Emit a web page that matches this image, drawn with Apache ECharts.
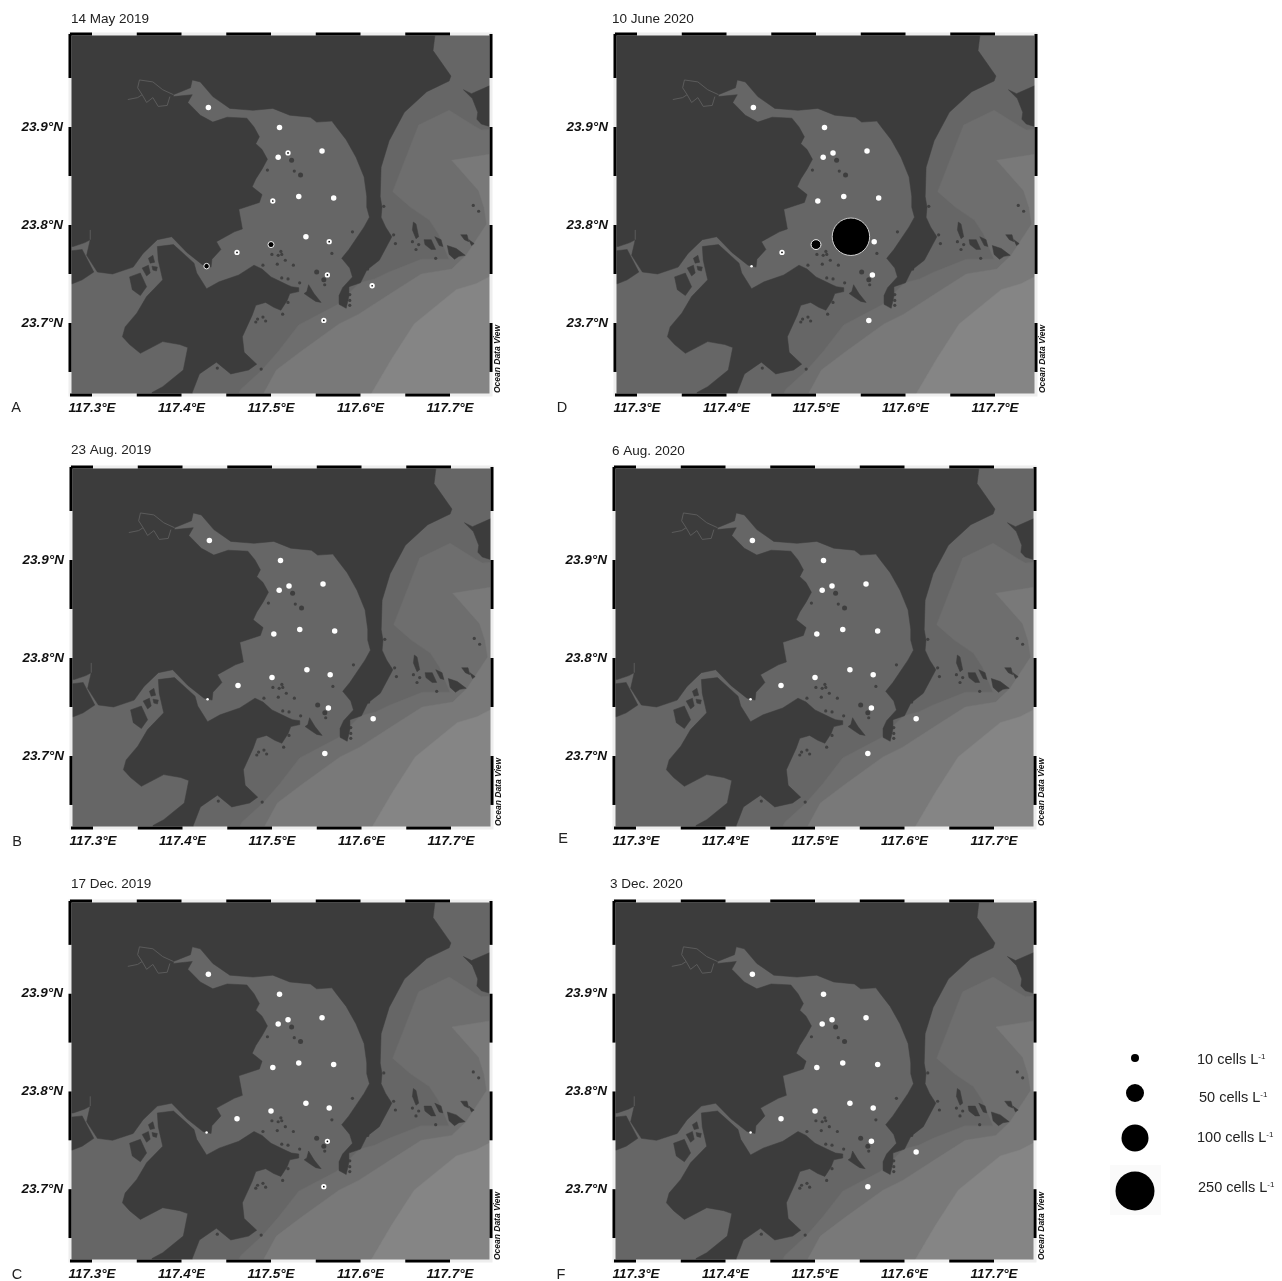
<!DOCTYPE html>
<html><head><meta charset="utf-8">
<style>html,body{margin:0;padding:0;background:#fff}#c{width:1282px;height:1281px}</style>
<script src="https://cdn.jsdelivr.net/npm/echarts@6/dist/echarts.min.js"></script>
</head><body><div id="c"></div>
<script>
// ---- survey dates and panel letters
const panelDates = ['14 May 2019','23 Aug. 2019','17 Dec. 2019','10 June 2020','6 Aug. 2020','3 Dec. 2020'];
const panelLetters = ['A','B','C','D','E','F'];
// ---- axis ticks (degrees)
const lonTicks = [117.3,117.4,117.5,117.6,117.7];
const latTicks = [23.7,23.8,23.9];
const lonRange = [117.2754,117.7458];
const latRange = [23.6265,23.9949];
const lonBlack = [[117.2754,117.3],[117.35,117.4],[117.45,117.5],[117.55,117.6],[117.65,117.7]];
const latBlack = [[23.95,23.9949],[23.85,23.9],[23.75,23.8],[23.65,23.7]];
// ---- stations [lon, lat]
const stations = [[117.430,23.920],[117.5095,23.8995],[117.508,23.869],[117.519,23.8735],[117.557,23.8755],[117.502,23.8245],[117.531,23.829],[117.570,23.8275],[117.462,23.772],[117.500,23.780],[117.539,23.788],[117.565,23.783],[117.563,23.749],[117.613,23.738],[117.559,23.7026],[117.428,23.758]];
// ---- abundance per station, cells per litre (null = no marker, -1 = trace mark half hidden by the coast)
const cellsA = [0,0,0,1,0,1,0,0,1,6,0,1,1,2,1,5];
const cellsB = [0,0,0,0,0,0,0,0,0,0,0,0,0,0,0,-1];
const cellsC = [0,0,0,0,0,0,0,0,0,0,0,0,1,null,2,-1];
const cellsD = [0,0,0,0,0,0,0,0,1,16,230,0,0,null,0,-1];
const cellsE = [0,0,0,0,0,0,0,0,0,0,0,0,0,0,0,-1];
const cellsF = [0,0,0,0,0,0,0,0,0,0,0,0,0,0,0,-1];
const legendValues = [10,50,100,250];
// ---- map outlines [lon, lat]
const landNorth = [[117.27,24.0],[117.684,24.0],[117.681,23.978],[117.701,23.952],[117.699,23.947],[117.674,23.936],[117.649,23.915],[117.632,23.886],[117.623,23.859],[117.622,23.829],[117.624,23.818],[117.623,23.808],[117.628,23.798],[117.635,23.788],[117.621,23.764],[117.607,23.754],[117.600,23.741],[117.587,23.737],[117.587,23.727],[117.584,23.715],[117.576,23.719],[117.576,23.728],[117.580,23.736],[117.591,23.747],[117.588,23.756],[117.579,23.766],[117.587,23.775],[117.604,23.798],[117.610,23.808],[117.607,23.818],[117.607,23.829],[117.604,23.849],[117.595,23.869],[117.584,23.887],[117.573,23.900],[117.568,23.906],[117.551,23.905],[117.544,23.910],[117.521,23.912],[117.502,23.919],[117.480,23.917],[117.454,23.919],[117.435,23.931],[117.421,23.946],[117.412,23.948],[117.410,23.940],[117.391,23.933],[117.391,23.931],[117.412,23.933],[117.407,23.925],[117.421,23.912],[117.435,23.905],[117.451,23.910],[117.473,23.909],[117.481,23.900],[117.487,23.890],[117.483,23.883],[117.490,23.877],[117.496,23.867],[117.490,23.857],[117.483,23.847],[117.479,23.839],[117.490,23.831],[117.487,23.823],[117.464,23.816],[117.468,23.796],[117.459,23.793],[117.439,23.783],[117.444,23.775],[117.434,23.765],[117.433,23.757],[117.424,23.759],[117.406,23.772],[117.389,23.788],[117.373,23.785],[117.357,23.771],[117.346,23.757],[117.323,23.750],[117.306,23.752],[117.294,23.769],[117.298,23.785],[117.292,23.782],[117.279,23.778],[117.27,23.778]];
const landWest = [[117.27,23.773],[117.289,23.775],[117.302,23.752],[117.289,23.744],[117.278,23.740],[117.27,23.740]];
const landSouth = [[117.391,23.780],[117.402,23.771],[117.414,23.761],[117.417,23.751],[117.428,23.735],[117.442,23.742],[117.464,23.749],[117.481,23.759],[117.490,23.755],[117.500,23.747],[117.518,23.739],[117.523,23.737],[117.531,23.736],[117.531,23.732],[117.521,23.730],[117.518,23.723],[117.511,23.713],[117.503,23.716],[117.494,23.721],[117.483,23.718],[117.479,23.708],[117.468,23.686],[117.470,23.670],[117.484,23.658],[117.475,23.652],[117.455,23.648],[117.439,23.660],[117.420,23.648],[117.412,23.629],[117.412,23.62],[117.367,23.62],[117.367,23.629],[117.379,23.635],[117.402,23.652],[117.407,23.675],[117.398,23.678],[117.379,23.681],[117.354,23.669],[117.342,23.678],[117.334,23.686],[117.337,23.696],[117.350,23.710],[117.361,23.727],[117.379,23.744],[117.374,23.764],[117.373,23.778]];
const landEast = [[117.715,23.938],[117.724,23.934],[117.744,23.942],[117.75,23.942],[117.75,23.899],[117.735,23.903],[117.730,23.908],[117.731,23.915],[117.725,23.929]];
const islandW1 = [[117.342,23.747],[117.354,23.751],[117.361,23.737],[117.354,23.728],[117.345,23.734]];
const islandW2 = [[117.356,23.756],[117.363,23.759],[117.365,23.751],[117.361,23.748]];
const islandW3 = [[117.363,23.766],[117.368,23.769],[117.370,23.762],[117.365,23.761]];
const islandW4 = [[117.367,23.758],[117.373,23.757],[117.372,23.753],[117.368,23.754]];
const islandB1 = [[117.542,23.739],[117.548,23.730],[117.556,23.721],[117.550,23.722],[117.545,23.725],[117.537,23.730],[117.540,23.732]];
const islandE1 = [[117.659,23.803],[117.662,23.801],[117.665,23.788],[117.662,23.786],[117.658,23.795]];
const islandE2 = [[117.671,23.785],[117.679,23.785],[117.684,23.775],[117.679,23.775],[117.672,23.780]];
const islandE3 = [[117.683,23.788],[117.690,23.785],[117.692,23.778],[117.688,23.779]];
const islandE4 = [[117.697,23.779],[117.707,23.776],[117.717,23.769],[117.710,23.768],[117.705,23.765],[117.699,23.770]];
const islandE5 = [[117.712,23.790],[117.719,23.790],[117.721,23.783],[117.716,23.785]];
const islandE6 = [[117.721,23.785],[117.727,23.781],[117.724,23.779]];
const depthBand2 = [[117.460,23.62],[117.466,23.632],[117.490,23.652],[117.509,23.672],[117.531,23.698],[117.573,23.718],[117.579,23.723],[117.599,23.741],[117.616,23.745],[117.632,23.752],[117.668,23.765],[117.699,23.765],[117.687,23.791],[117.677,23.805],[117.656,23.818],[117.636,23.834],[117.665,23.902],[117.699,23.917],[117.727,23.901],[117.735,23.897],[117.75,23.898],[117.75,23.62]];
const depthBand3 = [[117.487,23.62],[117.506,23.652],[117.535,23.672],[117.576,23.699],[117.598,23.709],[117.632,23.729],[117.668,23.750],[117.702,23.755],[117.718,23.769],[117.741,23.801],[117.738,23.818],[117.732,23.835],[117.702,23.866],[117.75,23.873],[117.75,23.62]];
const depthBand4 = [[117.607,23.62],[117.634,23.662],[117.660,23.699],[117.707,23.734],[117.729,23.740],[117.75,23.75],[117.75,23.62]];
const river1 = [[117.340,23.928],[117.351,23.930],[117.356,23.933],[117.351,23.940],[117.353,23.948],[117.368,23.946],[117.379,23.938],[117.391,23.933]];
const river2 = [[117.356,23.933],[117.361,23.925],[117.368,23.930],[117.374,23.921],[117.384,23.922],[117.387,23.931]];
const river3 = [[117.298,23.785],[117.298,23.795]];
const smallIslets = [[117.501,23.770],[117.508,23.769],[117.511,23.773],[117.512,23.770],[117.516,23.764],[117.507,23.760],[117.525,23.759],[117.491,23.759],[117.519,23.745],[117.512,23.746],[117.532,23.741],[117.568,23.771],[117.519,23.721],[117.513,23.709],[117.483,23.701],[117.485,23.704],[117.491,23.706],[117.494,23.702],[117.489,23.653],[117.440,23.654],[117.560,23.739],[117.526,23.855],[117.591,23.793],[117.496,23.856],[117.626,23.819],[117.726,23.820],[117.732,23.814],[117.684,23.766],[117.658,23.783],[117.665,23.780],[117.662,23.775],[117.637,23.790],[117.639,23.781],[117.608,23.755],[117.588,23.729],[117.588,23.723],[117.588,23.718]];
const largeIslets = [[117.551,23.752],[117.559,23.744],[117.523,23.866],[117.533,23.851]];

const allCells = [cellsA,cellsB,cellsC,cellsD,cellsE,cellsF];
const gridPos = [[70,34],[71,467],[70,901],[615,34],[614,467],[614,901]];
const GW = 421, GH = 361;
const C = {land:'#3c3c3c',z1:'#666666',z2:'#6e6e6e',z3:'#797979',z4:'#858585'};
const FONT = '"Liberation Sans", Arial, sans-serif';

function dia(v){ return 2.47*Math.sqrt(v); }

function polySeries(i, polys, color, z){
  return {type:'custom',xAxisIndex:i,yAxisIndex:i,clip:true,silent:true,z:z,animation:false,
    data:polys.map((p,k)=>k),
    renderItem:(params,api)=>({type:'polygon',
      shape:{points:polys[params.dataIndex].map(p=>api.coord(p))},
      style:{fill:color,stroke:color,lineWidth:0.5}})};
}
function lineSeries(i, lines, z){
  return {type:'custom',xAxisIndex:i,yAxisIndex:i,clip:true,silent:true,z:z,animation:false,
    data:lines.map((p,k)=>k),
    renderItem:(params,api)=>({type:'polyline',
      shape:{points:lines[params.dataIndex].map(p=>api.coord(p))},
      style:{fill:null,stroke:'#5f5f5f',lineWidth:0.9}})};
}
function frameSeries(i){
  return {type:'custom',xAxisIndex:i,yAxisIndex:i,silent:true,z:20,animation:false,clip:false,data:[0],
    renderItem:(params,api)=>{
      const cs=params.coordSys, kids=[];
      const x0=cs.x,x1=cs.x+cs.width,y0=cs.y,y1=cs.y+cs.height;
      kids.push({type:'rect',shape:{x:x0,y:y0,width:cs.width,height:cs.height},style:{fill:null,stroke:'#eeeeee',lineWidth:3}});
      const seg=(a,b,c,d)=>kids.push({type:'line',shape:{x1:a,y1:b,x2:c,y2:d},style:{stroke:'#000',lineWidth:3}});
      lonBlack.forEach(s=>{const a=api.coord([s[0],latRange[0]])[0],b=api.coord([s[1],latRange[0]])[0];seg(a,y0,b,y0);seg(a,y1,b,y1);});
      latBlack.forEach(s=>{const a=api.coord([lonRange[0],s[0]])[1],b=api.coord([lonRange[0],s[1]])[1];seg(x0,a,x0,b);seg(x1,a,x1,b);});
      return {type:'group',children:kids};
    }};
}
function markStyle(v){
  if(v===-1) return {size:2.5,style:{color:'#fff',borderWidth:0,opacity:1}};
  if(v===0) return {size:5.5,style:{color:'#fff',borderWidth:0,opacity:1}};
  const d=dia(v);
  if(d<5) return {size:3.5,style:{color:'#000',borderColor:'#fff',borderWidth:1.8,opacity:1}};
  if(d<20) return {size:d,style:{color:'#000',borderColor:'#f0f0f0',borderWidth:1,opacity:1}};
  return {size:d,style:{color:'#000',borderColor:'#cfcfcf',borderWidth:1,opacity:1}};
}

const grids=[],xAxes=[],yAxes=[],series=[],graphic=[];
gridPos.forEach((g,i)=>{
  grids.push({left:g[0],top:g[1],width:GW,height:GH,show:true,backgroundColor:C.z1,borderWidth:0});
  xAxes.push({type:'value',gridIndex:i,min:lonRange[0],max:lonRange[1],splitLine:{show:false},axisLine:{show:false},axisTick:{show:false},
    axisLabel:{customValues:lonTicks,formatter:v=>v.toFixed(1)+'°E',margin:6,fontFamily:FONT,fontWeight:'bold',fontStyle:'italic',fontSize:13.5,color:'#111'}});
  yAxes.push({type:'value',gridIndex:i,min:latRange[0],max:latRange[1],splitLine:{show:false},axisLine:{show:false},axisTick:{show:false},
    axisLabel:{customValues:latTicks,formatter:v=>v.toFixed(1)+'°N',margin:7,fontFamily:FONT,fontWeight:'bold',fontStyle:'italic',fontSize:13.5,color:'#111'}});
  series.push(polySeries(i,[depthBand2],C.z2,2));
  series.push(polySeries(i,[depthBand3],C.z3,3));
  series.push(polySeries(i,[depthBand4],C.z4,4));
  series.push(polySeries(i,[landNorth,landWest,landSouth,landEast,islandW1,islandW2,islandW3,islandW4,islandB1,islandE1,islandE2,islandE3,islandE4,islandE5,islandE6],C.land,5));
  series.push(lineSeries(i,[river1,river2,river3],6));
  series.push({type:'scatter',xAxisIndex:i,yAxisIndex:i,data:smallIslets,symbolSize:3.2,itemStyle:{color:C.land,opacity:0.9},silent:true,z:7,animation:false});
  series.push({type:'scatter',xAxisIndex:i,yAxisIndex:i,data:largeIslets,symbolSize:5,itemStyle:{color:C.land,opacity:0.95},silent:true,z:7,animation:false});
  const pts=[];
  stations.forEach((s,k)=>{const v=allCells[i][k]; if(v===null) return; const m=markStyle(v);
    pts.push({value:[s[0],s[1],v],symbolSize:m.size,itemStyle:m.style});});
  series.push({type:'scatter',xAxisIndex:i,yAxisIndex:i,data:pts,silent:true,z:10,animation:false});
  series.push(frameSeries(i));
  graphic.push({type:'text',x:g[0]+428,y:g[1]+325,rotation:Math.PI/2,z:30,
    style:{text:'Ocean Data View',font:'italic bold 8.5px '+FONT,fill:'#111',textAlign:'center',textVerticalAlign:'middle'}});
});
const titlePos=[[71,19],[71,450],[71,884],[612,19],[612,451],[610,884]];
panelDates.forEach((t,i)=>graphic.push({type:'text',x:titlePos[i][0],y:titlePos[i][1],z:30,
  style:{text:t,font:'13.5px '+FONT,fill:'#222',textAlign:'left',textVerticalAlign:'middle'}}));
const letterPos=[[16,408],[17,842],[17,1275],[562,408],[563,839],[561,1275]];
panelLetters.forEach((t,i)=>graphic.push({type:'text',x:letterPos[i][0],y:letterPos[i][1],z:30,
  style:{text:t,font:'14.5px '+FONT,fill:'#222',textAlign:'center',textVerticalAlign:'middle'}}));
// bubble key
const keyY=[1058,1093,1138,1191], keyD=[8,18,27,39], keyTextX=[1197,1199,1197,1198], keyTextY=[1060,1098,1138,1188];
graphic.push({type:'rect',shape:{x:1110,y:1165,width:51,height:50},style:{fill:'#fafafa'},z:29});
legendValues.forEach((v,i)=>{
  graphic.push({type:'circle',shape:{cx:1135,cy:keyY[i],r:keyD[i]/2},style:{fill:'#000'},z:30});
  graphic.push({type:'text',x:keyTextX[i],y:keyTextY[i],z:30,style:{
    text:'{a|'+v+' cells L}{s|-1}',textVerticalAlign:'middle',textAlign:'left',
    rich:{a:{fontFamily:FONT,fontSize:14.5,fill:'#222',color:'#222'},s:{fontFamily:FONT,fontSize:8,fill:'#222',color:'#222',padding:[0,0,7,0]}}}});
});
const chart=echarts.init(document.getElementById('c'),null,{renderer:'canvas'});
chart.setOption({animation:false,backgroundColor:'#fff',grid:grids,xAxis:xAxes,yAxis:yAxes,series:series,graphic:graphic,tooltip:{show:false}});
</script></body></html>
